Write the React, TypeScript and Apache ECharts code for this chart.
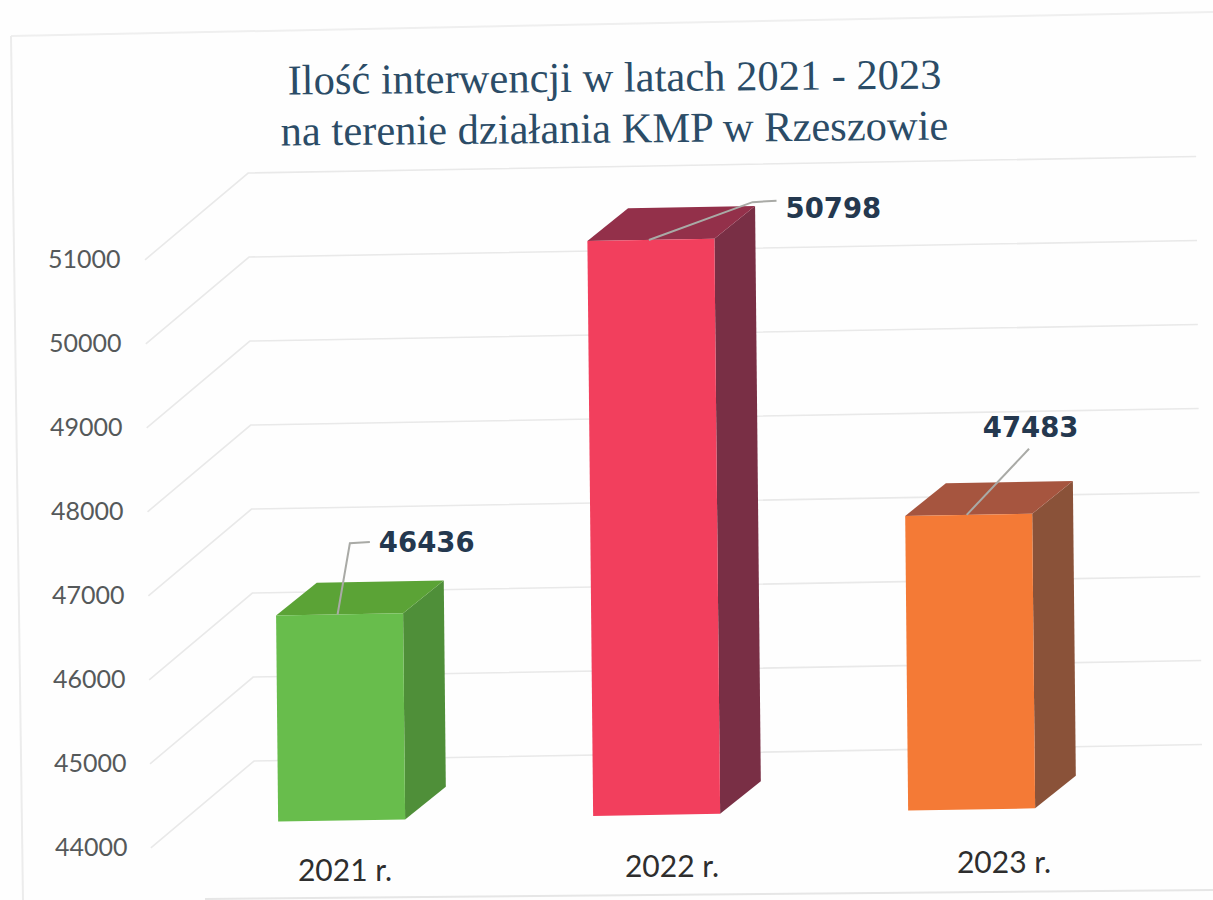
import React, { useEffect, useRef } from "react";
import * as echarts from "echarts";

const titleLines = ["Ilość interwencji w latach 2021 - 2023", "na terenie działania KMP w Rzeszowie"];
const categories = ["2021 r.", "2022 r.", "2023 r."];
const values = [46436, 50798, 47483];
const yTicks = [44000, 45000, 46000, 47000, 48000, 49000, 50000, 51000];

const frontColors = ["#68bd4c", "#f23f5d", "#f47a36"];
const topColors = ["#5ba336", "#93304a", "#a6553f"];
const sideColors = ["#4f8f39", "#792f45", "#8a5239"];

// leader-line bends and label anchors, relative to the top centre of each bar's front face
const leaderBends = [
  [[13, -71], [33, -72]],
  [[104, -36], [128, -37]],
  [[63, -65], [63, -65]],
];
const labelOffsets = [[42, -72], [137, -30], [17, -88]];
const categoryShift = [[9, 8], [21, 4], [38, 0]];

const skew = (x: number, y: number) => [x + (y - 258) * 0.01, y - (x - 250) * 0.0175];
const flat = (pts: number[][]) => pts.map((p) => skew(p[0], p[1]));

const renderWall = (_: any, api: any) => {
  const tick = api.value(1);
  const [, y] = api.coord([0, tick]);
  const front = [145, y];
  const corner = [249, y - 85];
  const end = [1197, y - 85];
  return {
    type: "polyline",
    shape: { points: flat([front, corner, end]) },
    style: { fill: "none", stroke: "#e9e9e9", lineWidth: 1.6 },
  };
};

const renderBar = (params: any, api: any) => {
  const i = params.dataIndex;
  const [cx, yTop0] = api.coord([i, api.value(1)]);
  const [, yBase] = api.coord([i, yTicks[0]]);
  const lift = -24;
  const w = 127;
  const dx = 41;
  const dy = -32;
  const bottom = yBase + lift;
  const top = bottom - (yBase - yTop0) * 1.007;
  const l = cx - w / 2;
  const r = cx + w / 2;
  const anchor = [cx - 2, top];
  const labelAt = skew(anchor[0] + labelOffsets[i][0], anchor[1] + labelOffsets[i][1]);
  return {
    type: "group",
    children: [
      {
        type: "polygon",
        shape: { points: flat([[r, top], [r + dx, top + dy], [r + dx, bottom + dy], [r, bottom]]) },
        style: { fill: sideColors[i] },
      },
      {
        type: "polygon",
        shape: { points: flat([[l, top], [l + dx, top + dy], [r + dx, top + dy], [r, top]]) },
        style: { fill: topColors[i] },
      },
      {
        type: "polygon",
        shape: { points: flat([[l, top], [r, top], [r, bottom], [l, bottom]]) },
        style: { fill: frontColors[i] },
      },
      {
        type: "polyline",
        shape: {
          points: flat([anchor, ...leaderBends[i].map((b) => [anchor[0] + b[0], anchor[1] + b[1]])]),
        },
        style: { fill: "none", stroke: "#a9aaa6", lineWidth: 2 },
      },
      {
        type: "text",
        style: {
          text: String(values[i]),
          x: labelAt[0],
          y: labelAt[1],
          fill: "#24384f",
          font: 'bold 27.5px "DejaVu Sans"',
          textAlign: "left",
          textVerticalAlign: "middle",
        },
      },
    ],
  };
};

const yRich: Record<string, any> = {};
yTicks.forEach((t, k) => {
  yRich["t" + k] = { padding: [0, k, 0, 0], fontFamily: "Lato", fontSize: 25, color: "#55595a" };
});
const xRich: Record<string, any> = {};
categories.forEach((_, k) => {
  xRich["c" + k] = {
    padding: [categoryShift[k][1], 0, 0, categoryShift[k][0] * 2],
    fontFamily: "Lato",
    fontSize: 30,
    color: "#2e2e2e",
  };
});

export default function App() {
  const ref = useRef<HTMLDivElement>(null);
  useEffect(() => {
    const chart = echarts.init(ref.current!, null, { renderer: "svg" });
    chart.setOption({
      animation: false,
      backgroundColor: "#fefefe",
      grid: { left: 178.5, top: 258, width: 945, height: 588 },
      xAxis: {
        type: "category",
        data: categories,
        axisLine: { show: false },
        axisTick: { show: false },
        splitLine: { show: false },
        axisLabel: {
          margin: 0,
          formatter: (v: string) => `{c${categories.indexOf(v)}|${v}}`,
          rich: xRich,
        },
      },
      yAxis: {
        type: "value",
        min: yTicks[0],
        max: yTicks[yTicks.length - 1],
        interval: 1000,
        axisLine: { show: false },
        axisTick: { show: false },
        splitLine: { show: false },
        axisLabel: {
          margin: 51,
          align: "right",
          formatter: (v: number) => `{t${yTicks.indexOf(v)}|${v}}`,
          rich: yRich,
        },
      },
      graphic: [
        { type: "line", silent: true, shape: { x1: 11, y1: 36, x2: 1213, y2: 12 }, style: { stroke: "#efefef", lineWidth: 2 } },
        { type: "line", silent: true, shape: { x1: 11, y1: 36, x2: 23, y2: 900 }, style: { stroke: "#ececec", lineWidth: 2 } },
        { type: "line", silent: true, shape: { x1: 205, y1: 899, x2: 1213, y2: 890 }, style: { stroke: "#e6e6e6", lineWidth: 2 } },
        {
          type: "text",
          x: 614.5,
          y: 77,
          rotation: 0.009,
          style: {
            text: titleLines[0],
            fill: "#2b4c67",
            font: '42.5px "Liberation Serif"',
            textAlign: "center",
            textVerticalAlign: "middle",
          },
        },
        {
          type: "text",
          x: 614.5,
          y: 128,
          rotation: 0.009,
          style: {
            text: titleLines[1],
            fill: "#2b4c67",
            font: '42.5px "Liberation Serif"',
            textAlign: "center",
            textVerticalAlign: "middle",
          },
        },
      ],
      series: [
        {
          type: "custom",
          coordinateSystem: "cartesian2d",
          clip: false,
          silent: true,
          renderItem: renderWall,
          encode: { x: 0, y: 1 },
          data: yTicks.map((t) => [0, t]),
          z: 1,
        },
        {
          type: "custom",
          coordinateSystem: "cartesian2d",
          clip: false,
          silent: true,
          renderItem: renderBar,
          encode: { x: 0, y: 1 },
          data: values.map((v, i) => [i, v]),
          z: 2,
        },
      ],
    });
    return () => chart.dispose();
  }, []);
  return <div ref={ref} style={{ position: "absolute", left: 0, top: 0, width: 1213, height: 900 }} />;
}
